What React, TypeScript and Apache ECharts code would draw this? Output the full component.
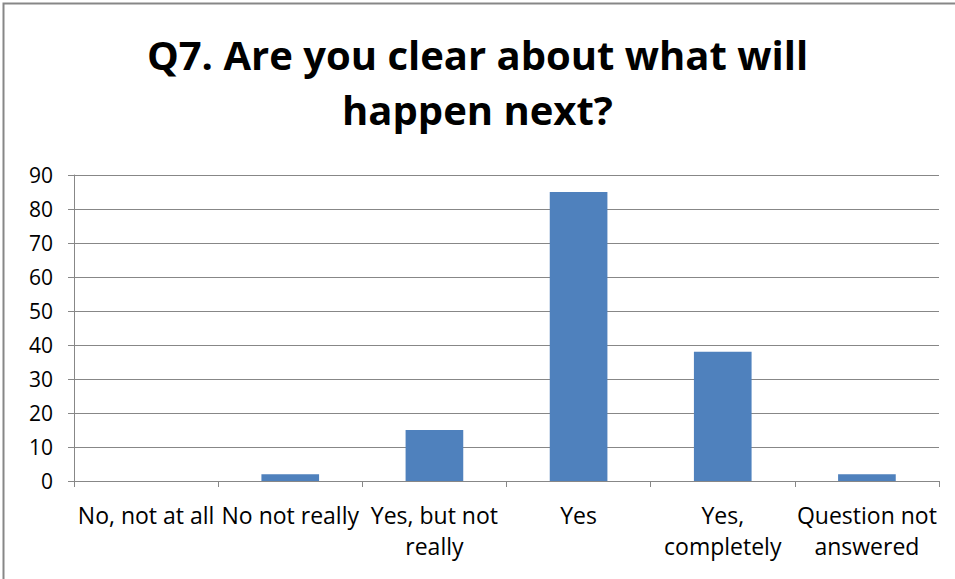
import React, { useEffect, useRef } from "react";
import * as echarts from "echarts";

const titleText = "Q7. Are you clear about what will\nhappen next?";
const categories = [
  "No, not at all",
  "No not really",
  "Yes, but not\nreally",
  "Yes",
  "Yes,\ncompletely",
  "Question not\nanswered",
];
const values = [0, 2, 15, 85, 38, 2];
const yMin = 0;
const yMax = 90;
const yInterval = 10;

export default function App() {
  const ref = useRef<HTMLDivElement>(null);
  useEffect(() => {
    if (!ref.current) return;
    const chart = echarts.init(ref.current, undefined, { renderer: "svg" });
    const labelFont = "'Open Sans', sans-serif";
    chart.setOption({
      animation: false,
      backgroundColor: "#ffffff",
      graphic: [
        {
          type: "rect",
          shape: { x: 3.5, y: 3.5, width: 960, height: 600 },
          style: { fill: "none", stroke: "#878787", lineWidth: 2 },
          silent: true,
        },
      ],
      title: {
        text: titleText,
        left: "center",
        top: 22,
        textStyle: {
          fontFamily: labelFont,
          fontWeight: "bold",
          fontSize: 40,
          lineHeight: 55,
          color: "#000000",
        },
      },
      grid: { left: 74, right: 16, top: 175, bottom: 98, containLabel: false },
      xAxis: {
        type: "category",
        data: categories,
        axisLine: { show: true, lineStyle: { color: "#878787", width: 1 } },
        axisTick: { show: true, alignWithLabel: false, length: 6, lineStyle: { color: "#878787" } },
        axisLabel: {
          interval: 0,
          margin: 18,
          fontFamily: labelFont,
          fontSize: 23,
          lineHeight: 31,
          color: "#000000",
        },
      },
      yAxis: {
        type: "value",
        min: yMin,
        max: yMax,
        interval: yInterval,
        axisLine: { show: true, lineStyle: { color: "#878787", width: 1 } },
        axisTick: { show: true, length: 6, lineStyle: { color: "#878787" } },
        splitLine: { show: true, lineStyle: { color: "#878787", width: 1 } },
        axisLabel: {
          margin: 21,
          fontFamily: labelFont,
          fontSize: 21,
          color: "#000000",
        },
      },
      series: [
        {
          type: "bar",
          data: values,
          barWidth: "40%",
          itemStyle: { color: "#4f81bd" },
        },
      ],
    });
    return () => chart.dispose();
  }, []);
  return (
    <div
      ref={ref}
      style={{ position: "fixed", left: 0, top: 0, width: 955, height: 579 }}
    />
  );
}
